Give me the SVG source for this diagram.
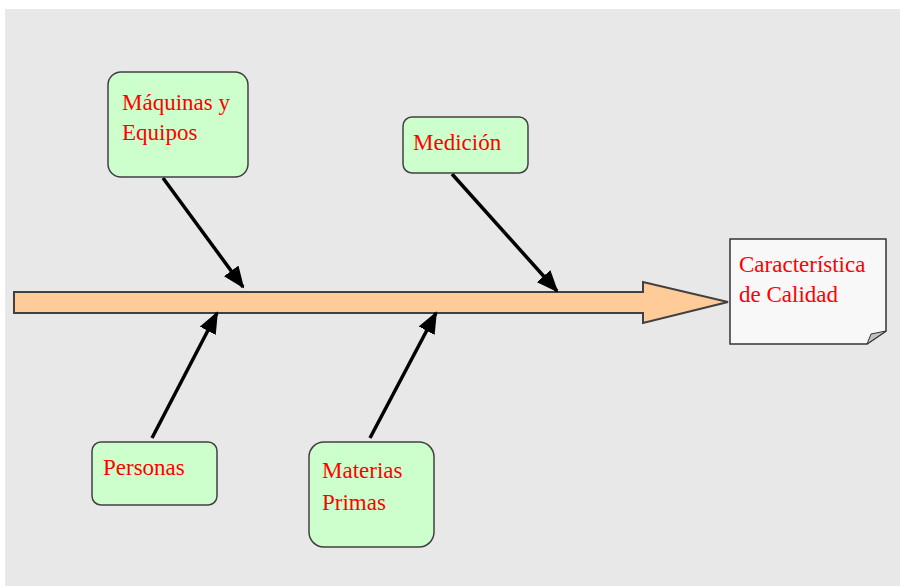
<svg xmlns="http://www.w3.org/2000/svg" width="900" height="586" viewBox="0 0 900 586">
  <style>
    .cause { fill: #ccffcc; stroke: #404040; stroke-width: 1.5; }
    .label { font-family: "Liberation Serif", "Times New Roman", serif; font-size: 23px; fill: #ff0000; }
    .link { stroke: #000000; stroke-width: 3.5; fill: none; marker-end: url(#head); }
  </style>
  <defs>
    <marker id="head" markerUnits="userSpaceOnUse" markerWidth="22" markerHeight="18" viewBox="0 0 22 18" refX="20" refY="9" orient="auto">
      <path d="M0,0 L22,9 L0,18 Z" fill="#000000"/>
    </marker>
  </defs>

  <!-- canvas -->
  <rect x="5" y="9" width="895" height="577" fill="#e8e8e8"/>

  <!-- spine -->
  <g id="spine">
    <path d="M14,292 L643,292 L643,282 L728,302 L643,323 L643,313 L14,313 Z" fill="#ffcc99" stroke="#404040" stroke-width="2"/>
  </g>

  <!-- connectors -->
  <g id="connectors">
    <line class="link" x1="163" y1="178" x2="243" y2="287"/>
    <line class="link" x1="452" y1="174" x2="557" y2="291"/>
    <line class="link" x1="152" y1="438" x2="217" y2="313"/>
    <line class="link" x1="370" y1="438" x2="436" y2="313"/>
  </g>

  <g id="maquinas">
    <rect class="cause" x="108" y="72" width="140" height="105" rx="13"/>
    <text class="label" x="122" y="110">Máquinas y</text>
    <text class="label" x="122" y="140">Equipos</text>
  </g>

  <g id="medicion">
    <rect class="cause" x="403" y="117" width="125" height="56" rx="9"/>
    <text class="label" x="413" y="150">Medición</text>
  </g>

  <g id="personas">
    <rect class="cause" x="92" y="442" width="125" height="63" rx="9"/>
    <text class="label" x="103" y="475">Personas</text>
  </g>

  <g id="materias">
    <rect class="cause" x="309" y="442" width="125" height="105" rx="15"/>
    <text class="label" x="322" y="478">Materias</text>
    <text class="label" x="322" y="510">Primas</text>
  </g>

  <g id="caracteristica">
    <path d="M730,239 L886,239 L886,331 L867,344 L730,344 Z" fill="#f8f8f8" stroke="#333333" stroke-width="1.5"/>
    <path d="M886,331 L867,344 L871,334 Z" fill="#c0c0c0" stroke="#333333" stroke-width="1"/>
    <text class="label" x="739" y="272">Característica</text>
    <text class="label" x="739" y="302">de Calidad</text>
  </g>
</svg>
